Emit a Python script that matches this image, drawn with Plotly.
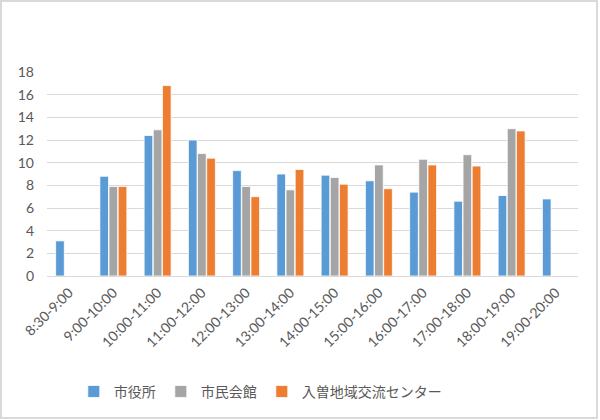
import plotly.graph_objects as go

# time slots and counts per venue
time_slots = ["8:30-9:00", "9:00-10:00", "10:00-11:00", "11:00-12:00", "12:00-13:00",
              "13:00-14:00", "14:00-15:00", "15:00-16:00", "16:00-17:00", "17:00-18:00",
              "18:00-19:00", "19:00-20:00"]
city_hall = [3.1, 8.8, 12.4, 12.0, 9.3, 9.0, 8.9, 8.4, 7.4, 6.6, 7.1, 6.8]
civic_hall = [None, 7.9, 12.9, 10.8, 7.9, 7.6, 8.7, 9.8, 10.3, 10.7, 13.0, None]
iriso_center = [None, 7.9, 16.8, 10.4, 7.0, 9.4, 8.1, 7.7, 9.8, 9.7, 12.8, None]

series = [
    ("市役所", city_hall, "#5B9BD5"),
    ("市民会館", civic_hall, "#A5A5A5"),
    ("入曽地域交流センター", iriso_center, "#ED7D31"),
]

fig = go.Figure()
for name, vals, color in series:
    fig.add_trace(go.Bar(
        x=time_slots, y=vals, name=name,
        marker=dict(color=color, line=dict(color="white", width=0.8)),
    ))

fig.update_layout(
    width=600, height=420,
    margin=dict(l=47, r=22, t=72, b=144, autoexpand=False),
    paper_bgcolor="white", plot_bgcolor="white",
    barmode="group", bargap=0.38, bargroupgap=0.05,
    font=dict(family="Lato, Noto Sans CJK JP", color="#595959", size=13),
    legend=dict(orientation="h", x=0.123, xanchor="left", xref="container",
                y=0.067, yanchor="middle", yref="container",
                font=dict(family="Noto Sans CJK JP", size=14, color="#595959"),
                itemwidth=30, tracegroupgap=0),
    showlegend=True,
    shapes=[dict(type="rect", xref="paper", yref="paper",
                 x0=-0.0866, x1=1.0358, y0=-0.696, y1=1.348,
                 line=dict(color="#D9D9D9", width=2), layer="below")],
)
fig.update_xaxes(tickangle=-45, showgrid=False, showline=True, linecolor="#D9D9D9",
                 ticks="", automargin=False, ticklabelstandoff=2,
                 tickfont=dict(size=14, color="#595959"))
fig.update_yaxes(range=[0, 18], dtick=2, showgrid=True, gridcolor="#D9D9D9",
                 zeroline=False, showline=False, ticks="", automargin=False,
                 ticklabelstandoff=12, tickfont=dict(size=14, color="#595959"))

# drop the default page margin so the 600x420 figure sits at the window origin
fig.write_html("out.html", config={"displayModeBar": False},
               post_script="document.body.style.margin='0';")
